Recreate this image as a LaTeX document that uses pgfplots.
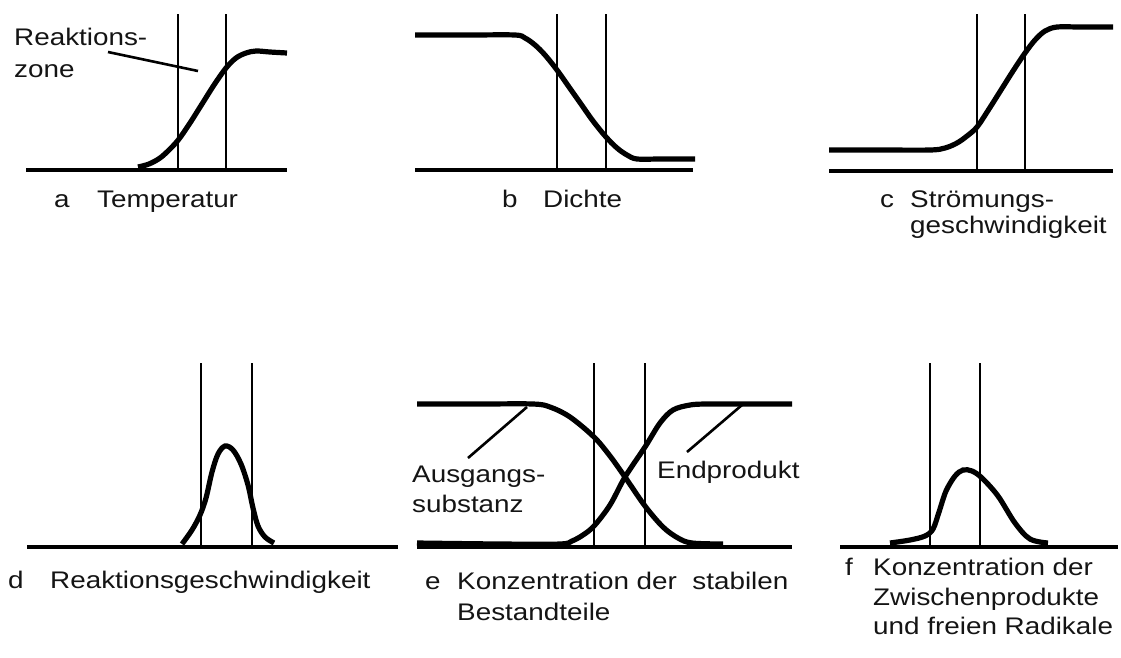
\documentclass[border=0pt]{standalone}
\usepackage{pgfplots}
\pgfplotsset{compat=1.18}
\usepackage{fontspec}
\setmainfont{Liberation Sans}[FakeStretch=1.16]
\tikzset{
  base/.style={line width=4pt},
  vl/.style={line width=2.9pt},
  ld/.style={line width=2.6pt},
  cv/.style={line width=5.2pt, smooth, tension=0.55},
  lbl/.style={anchor=base west, inner sep=0pt, font=\fontsize{24}{28}\selectfont, text=black!92},
}
\begin{document}
\begin{tikzpicture}
\begin{axis}[
  scale only axis, width=1121pt, height=657pt,
  xmin=0, xmax=1121, ymin=0, ymax=657, y dir=reverse,
  hide axis, clip=false,
  every axis plot/.append style={black, no marks},
]
\addplot[draw=none] coordinates {(0,0) (1121,657)};
% ---------- a Temperatur ----------
\addplot[base] coordinates {(26,170) (287,170)};
\addplot[vl] coordinates {(178,14) (178,170)};
\addplot[vl] coordinates {(226,14) (226,170)};
\addplot[cv] coordinates {(138,167) (149,164) (160,158) (170,149) (179,139) (190,123) (202,104) (214,85) (226,68) (236,58) (246,53) (256,51) (270,52) (287,53)};
\addplot[ld] coordinates {(108,52) (198,71)};
\node[lbl] at (axis cs:14,45) {Reaktions-};
\node[lbl] at (axis cs:14,77) {zone};
\node[lbl] at (axis cs:54,207) {a};
\node[lbl] at (axis cs:97,207) {Temperatur};
% ---------- b Dichte ----------
\addplot[base] coordinates {(415,170) (693,170)};
\addplot[vl] coordinates {(557,14) (557,170)};
\addplot[vl] coordinates {(606,14) (606,170)};
\addplot[cv] coordinates {(415,35) (470,35) (515,35) (525,38) (535,45) (545,55) (557,70) (569,87) (581,104) (593,121) (606,137) (617,148) (627,155) (637,159) (660,159) (695,159)};
\node[lbl] at (axis cs:502,207) {b};
\node[lbl] at (axis cs:543,207) {Dichte};
% ---------- c Stroemungsgeschwindigkeit ----------
\addplot[base] coordinates {(829,171) (1113,171)};
\addplot[vl] coordinates {(977,14) (977,171)};
\addplot[vl] coordinates {(1025,14) (1025,171)};
\addplot[cv] coordinates {(829,150) (880,150) (930,150) (945,148) (957,143) (967,136) (977,127) (989,109) (1001,90) (1013,71) (1025,53) (1035,40) (1045,31) (1057,27) (1080,27) (1113,27)};
\node[lbl] at (axis cs:880,207) {c};
\node[lbl] at (axis cs:910,207) {Strömungs-};
\node[lbl] at (axis cs:910,233) {geschwindigkeit};
% ---------- d Reaktionsgeschwindigkeit ----------
\addplot[base] coordinates {(27,547) (398,547)};
\addplot[vl] coordinates {(201,363) (201,547)};
\addplot[vl] coordinates {(252,363) (252,547)};
\addplot[cv] coordinates {(182,544) (192,530) (200,515) (206,498) (212,472) (218,454) (225,446) (233,450) (241,464) (248,485) (253,508) (258,526) (265,537) (274,543)};
\node[lbl] at (axis cs:8,588) {d};
\node[lbl] at (axis cs:50,588) {Reaktionsgeschwindigkeit};
% ---------- e Konzentration der stabilen Bestandteile ----------
\addplot[base] coordinates {(417,547) (792,547)};
\addplot[vl] coordinates {(594,363) (594,547)};
\addplot[vl] coordinates {(645,363) (645,547)};
% Ausgangssubstanz
\addplot[cv] coordinates {(417,404) (480,404) (533,404) (550,407) (570,417) (594,437) (610,456) (625,477) (645,506) (663,527) (678,538) (692,543) (723,544)};
% Endprodukt
\addplot[cv] coordinates {(417,543) (500,544) (560,544) (572,541) (583,535) (594,526) (610,505) (625,477) (645,447) (660,423) (673,410) (690,405) (707,404) (750,404) (792,404)};
\addplot[ld] coordinates {(468,458) (527,407)};
\addplot[ld] coordinates {(687,452) (742,405)};
\node[lbl] at (axis cs:412,482) {Ausgangs-};
\node[lbl] at (axis cs:412,512) {substanz};
\node[lbl] at (axis cs:657,478) {Endprodukt};
\node[lbl] at (axis cs:425,589) {e};
\node[lbl] at (axis cs:457,589) {Konzentration der\ \ stabilen};
\node[lbl] at (axis cs:457,620) {Bestandteile};
% ---------- f Konzentration der Zwischenprodukte ----------
\addplot[base] coordinates {(840,547) (1118,547)};
\addplot[vl] coordinates {(930,363) (930,547)};
\addplot[vl] coordinates {(980,363) (980,547)};
\addplot[cv] coordinates {(890,543) (910,540) (925,536) (933,529) (939,512) (946,491) (955,476) (963,470) (972,471) (982,478) (998,496) (1015,523) (1030,539) (1048,543)};
\node[lbl] at (axis cs:845,575) {f};
\node[lbl] at (axis cs:873,575) {Konzentration der};
\node[lbl] at (axis cs:873,605) {Zwischenprodukte};
\node[lbl] at (axis cs:873,634) {und freien Radikale};
\end{axis}
\end{tikzpicture}
\end{document}
